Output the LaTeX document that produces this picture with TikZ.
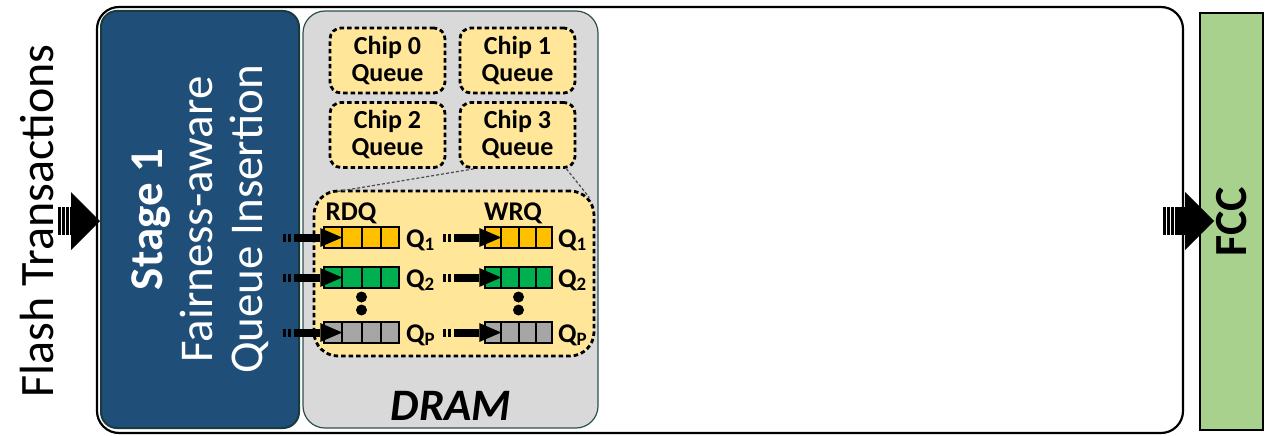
\documentclass[tikz,border=0pt]{standalone}
\usepackage{fontspec}
\setmainfont{Carlito}
\usepackage{tikz}
\usetikzlibrary{calc, arrows.meta}
\usepackage{xcolor}

\definecolor{stageblue}{HTML}{1F4E79}
\definecolor{stageedge}{HTML}{183C3C}
\definecolor{dramgray}{HTML}{D9D9D9}
\definecolor{dramedge}{HTML}{2E4F4F}
\definecolor{qyellow}{HTML}{FFE699}
\definecolor{qgold}{HTML}{FFC000}
\definecolor{qgreen}{HTML}{00B050}
\definecolor{qgray}{HTML}{A6A6A6}
\definecolor{fccgreen}{HTML}{A9D18E}

\begin{document}
\begin{tikzpicture}[x=1pt, y=-1pt]

        % Styles
        \tikzset{
          outerbox/.style={draw=black, line width=2.2pt, rounded corners=22pt, rectangle},
          stagebox/.style={fill=stageblue, draw=stageedge, line width=2pt, rounded corners=16pt, text=white},
          drambox/.style={fill=dramgray, draw=dramedge, line width=1.2pt, rounded corners=22pt},
          fccbox/.style={fill=fccgreen, draw=black, line width=2pt},
          chipq/.style={fill=qyellow, draw=black, line width=2.8pt, dash pattern=on 4.5pt off 3pt, rounded corners=11pt, minimum width=115pt, minimum height=65pt, align=center, font=\bfseries\fontsize{26}{27}\selectfont},
          queuebox/.style={draw=black, line width=2pt, minimum height=21pt, inner sep=0pt},
          qlabel/.style={anchor=base west, inner sep=0pt, font=\bfseries\fontsize{27}{28}\selectfont},
          dotn/.style={circle, fill=black, inner sep=0pt, minimum size=11pt},
          zoomline/.style={draw=black!70, line width=1.2pt, dash pattern=on 3pt off 2pt},
          bigarrow/.style={line width=28pt, dash pattern=on 2.5pt off 1.5pt on 2.5pt off 1.5pt on 2.5pt off 1.5pt on 500pt off 1pt, -{Triangle[length=29pt, width=58pt, line width=0pt]}},
          smallarrow/.style={line width=8pt, dash pattern=on 3pt off 2pt on 3pt off 3pt on 500pt off 1pt, -{Triangle[length=22pt, width=19pt, line width=0pt]}}
        }

        \useasboundingbox (0,0) rectangle (1276,436);

        % =================================================================
        % 1. OUTER FRAME, STAGE 1 AND FCC
        % =================================================================

        \node[outerbox, minimum width=1086pt, minimum height=426pt] (ssd) at (640,220) {};

        % rotated boxes: north is the left side
        \node[stagebox, rotate=90, minimum width=417pt, minimum height=198pt, align=center,
              font=\fontsize{47}{50}\selectfont] (stage) at (200,219.5)
              {\textbf{Stage 1}\\Fairness-aware\\Queue Insertion};

        \node[fccbox, rotate=90, minimum width=417pt, minimum height=63pt,
              font=\bfseries\fontsize{46}{48}\selectfont] (fcc) at (1231.5,221.5) {FCC};

        \node[rotate=90, font=\fontsize{48}{50}\selectfont] (flash) at (37,221) {Flash Transactions};

        % Striped block arrows
        \coordinate (inL) at (58,221);
        \coordinate (outR) at (1163,221);
        \draw[bigarrow] (inL) -- (inL -| stage.north);
        \draw[bigarrow] (outR) -- ($(outR -| fcc.north)+(15,0)$);

        % =================================================================
        % 2. DRAM WITH THE CHIP QUEUES
        % =================================================================

        \node[drambox, minimum width=295pt, minimum height=417pt] (dram) at (450.5,219.5) {};
        \node[anchor=base, font=\bfseries\itshape\fontsize{45}{46}\selectfont] (dramlabel) at (451,420) {DRAM};

        \foreach \n/\x/\y in {0/387.5/60.5, 1/517.5/60.5, 2/387.5/135, 3/517.5/135}
            \node[chipq] (chip\n) at (\x,\y) {Chip \n\\Queue};

        % Chip 3 Queue blown up
        \node[chipq, minimum width=280pt, minimum height=165pt, rounded corners=24pt] (c3q) at (454,273.5) {};
        \draw[zoomline] ($(chip3.south west)+(15,0)$) -- ($(c3q.north west)+(24,2)$);
        \draw[zoomline] ($(chip3.south east)+(-10,0)$) -- ($(c3q.north east)+(-6,8)$);

        \node[anchor=base, font=\bfseries\fontsize{27}{28}\selectfont] (rdq) at (351,220) {RDQ};
        \node[anchor=base, font=\bfseries\fontsize{27}{28}\selectfont] (wrq) at (513,220) {WRQ};

        % Queues Q1, Q2, QP (read side and write side)
        \foreach \r/\y/\c/\s in {1/237.5/qgold/1, 2/277.5/qgreen/2, 3/332.5/qgray/P} {
            \node[queuebox, fill=\c, minimum width=75pt] (rq\r) at (361.5,\y) {};
            \node[queuebox, fill=\c, minimum width=67pt] (wq\r) at (518.5,\y) {};
            \foreach \q in {rq\r, wq\r}
                \foreach \k in {1,2,3}
                    \draw[line width=2pt] ($(\q.north west)!\k/4!(\q.north east)$) -- ($(\q.south west)!\k/4!(\q.south east)$);
            \node[qlabel] (rql\r) at ($(rq\r.east)+(6,9.5)$) {Q\textsubscript{\s}};
            \node[qlabel] (wql\r) at ($(wq\r.east)+(5,9.5)$) {Q\textsubscript{\s}};
            \coordinate (rin\r) at (283,\y);
            \coordinate (win\r) at (443,\y);
            \draw[smallarrow] (rin\r) -- ($(rq\r.west)!0.25!(rq\r.east)$);
            \draw[smallarrow] (win\r) -- ($(wq\r.west)!0.25!(wq\r.east)$);
        }

        % dots between Q2 and QP
        \node[dotn] (rdot1) at (361.5,297) {};
        \node[dotn] (rdot2) at (361.5,310) {};
        \node[dotn] (wdot1) at (518.5,297) {};
        \node[dotn] (wdot2) at (518.5,310) {};

\end{tikzpicture}
\end{document}
